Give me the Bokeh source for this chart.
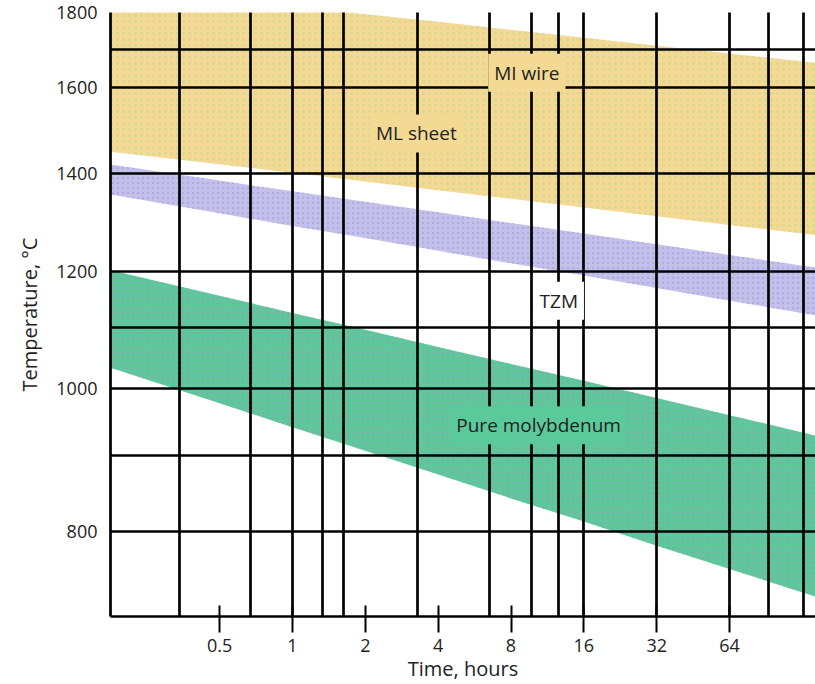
from bokeh.plotting import figure
from bokeh.models import Range1d, FixedTicker, Label, PrintfTickFormatter
from bokeh.embed import file_html
from bokeh.resources import INLINE

# ---- data ----
times = [0.177, 0.5, 1, 2, 4, 8, 16, 32, 64, 145]          # hours
ml_upper = [1875, 1840, 1818, 1795, 1774, 1752, 1730, 1709, 1688, 1664]
ml_lower = [1448, 1420, 1401, 1382, 1363, 1345, 1327, 1309, 1291, 1271]
tzm_upper = [1419, 1384, 1361, 1339, 1317, 1295, 1274, 1253, 1232, 1208]
tzm_lower = [1354, 1315, 1289, 1265, 1240, 1216, 1193, 1170, 1147, 1121]
mo_upper = [1203, 1156, 1125, 1096, 1067, 1039, 1012, 985, 959, 929]
mo_lower = [1033, 977, 941, 907, 874, 842, 812, 782, 754, 722]

x_ticks = [0.5, 1, 2, 4, 8, 16, 32, 64]
x_tick_labels = ["0.5", "1", "2", "4", "8", "16", "32", "64"]
y_ticks = [800, 1000, 1200, 1400, 1600, 1800]
x_grid = [0.34, 0.67, 1, 1.33, 1.62, 3.3, 6.5, 9.7, 12.6, 16, 32, 64, 93, 129]
y_grid = [800, 900, 1000, 1100, 1200, 1400, 1600, 1700, 1800]

band_labels = ["MI wire", "ML sheet", "TZM", "Pure molybdenum"]
label_t = [9.3, 3.25, 12.6, 10.4]
label_T = [1638, 1490, 1147, 944]

# ---- styling ----
YELLOW = "#F4D995"
LAVENDER = "#C4C0EC"
GREEN = "#5CC99A"
FONT = "Open Sans"
TXT = "#222222"

p = figure(width=815, height=684, output_backend="svg", toolbar_location=None,
           x_axis_type="log", y_axis_type="log",
           x_range=Range1d(0.177, 145), y_range=Range1d(700, 1800),
           min_border_left=110, min_border_top=12, min_border_right=0, min_border_bottom=0)
p.outline_line_color = None
p.background_fill_color = "white"
p.border_fill_color = "white"

p.varea(x=times, y1=ml_lower, y2=ml_upper, fill_color=YELLOW,
        hatch_pattern="dot", hatch_color="#C9D58C", hatch_scale=6, hatch_weight=1.2, hatch_alpha=0.6)
p.varea(x=times, y1=tzm_lower, y2=tzm_upper, fill_color=LAVENDER,
        hatch_pattern="dot", hatch_color="#A29CD6", hatch_scale=5, hatch_weight=1.2, hatch_alpha=0.6)
p.varea(x=times, y1=mo_lower, y2=mo_upper, fill_color=GREEN,
        hatch_pattern="dot", hatch_color="#8E9FAE", hatch_scale=5, hatch_weight=1.3, hatch_alpha=0.7)

# grid drawn over the bands
for g, ticks in ((p.xgrid, x_grid), (p.ygrid, y_grid)):
    g.ticker = FixedTicker(ticks=ticks)
    g.grid_line_color = "black"
    g.grid_line_width = 2.7
    g.grid_line_alpha = 1
    g.level = "guide"

# axes
xa = p.xaxis[0]
xa.ticker = FixedTicker(ticks=x_ticks)
xa.major_label_overrides = {t: s for t, s in zip(x_ticks, x_tick_labels)}
xa.major_tick_in = 11
xa.major_tick_out = 16
xa.major_tick_line_width = 2
xa.minor_tick_line_color = None
xa.axis_line_width = 2.7
xa.major_label_standoff = 6
xa.axis_label = "Time, hours"
xa.axis_label_standoff = 0

ya = p.yaxis[0]
ya.ticker = FixedTicker(ticks=y_ticks)
ya.formatter = PrintfTickFormatter(format="%d")
ya.major_tick_in = 0
ya.major_tick_out = 0
ya.minor_tick_line_color = None
ya.axis_line_width = 2.7
ya.major_label_standoff = 13
ya.axis_label = "Temperature, °C"
ya.axis_label_standoff = 10

for a in (xa, ya):
    a.major_label_text_font = FONT
    a.major_label_text_font_size = "18px"
    a.major_label_text_color = TXT
    a.axis_label_text_font = FONT
    a.axis_label_text_font_size = "20px"
    a.axis_label_text_font_style = "normal"
    a.axis_label_text_color = TXT

# band labels
bgs = [YELLOW, YELLOW, "white", GREEN]
for txt, t, T, bg in zip(band_labels, label_t, label_T, bgs):
    p.add_layout(Label(x=t, y=T, text=txt, text_align="center", text_baseline="middle",
                       text_font=FONT, text_font_size="19px", text_color=TXT,
                       background_fill_color=bg, padding=6))

open("out.html", "w").write(file_html(p, INLINE))
